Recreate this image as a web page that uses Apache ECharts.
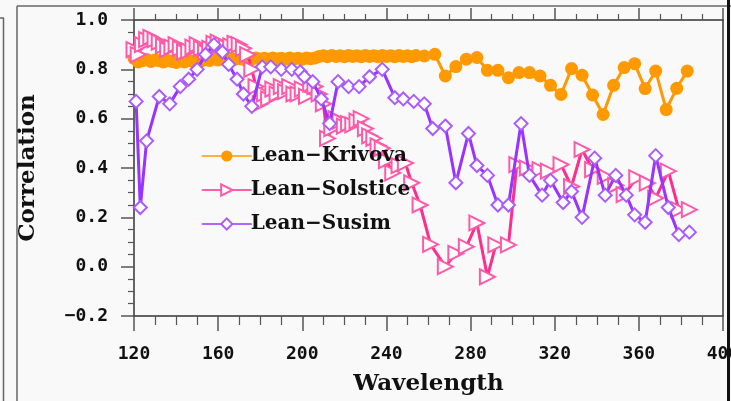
<!DOCTYPE html>
<html>
<head>
<meta charset="utf-8">
<script src="https://cdn.jsdelivr.net/npm/echarts@6/dist/echarts.min.js"></script>
<style>
  html, body { margin: 0; padding: 0; background: #f9f9f9; }
  #chart { width: 731px; height: 401px; }
</style>
</head>
<body>
<div id="chart"></div>
<script>
// Correlation of Lean with three other solar spectral irradiance reconstructions, per wavelength (nm)
const seriesNames = ['Lean\u2212Krivova', 'Lean\u2212Solstice', 'Lean\u2212Susim'];

const xTicks = [120, 160, 200, 240, 280, 320, 360, 400];
const yTicks = [-0.2, 0.0, 0.2, 0.4, 0.6, 0.8, 1.0];

const krivovaWl = [
  120, 122, 124, 126, 128, 130, 132, 134, 136, 138, 140, 142, 144, 146, 148, 150,
  152, 154, 156, 158, 160, 162, 164, 166, 168, 170, 172, 174, 176, 178, 180, 182,
  184, 186, 188, 190, 192, 194, 196, 198, 200, 202, 204, 206, 208, 210, 212, 214,
  216, 218, 220, 222, 224, 226, 228, 230, 232, 234, 236, 238, 240, 242, 244, 246,
  248, 250, 252, 254,
  258, 263, 268, 273, 278, 283, 288, 293, 298, 303, 308, 313, 318, 323, 328, 333,
  338, 343, 348, 353, 358, 363, 368, 373, 378, 383
];
const krivovaVal = [
  0.845, 0.830, 0.835, 0.840, 0.832, 0.838, 0.835, 0.830, 0.836, 0.832, 0.828, 0.834, 0.830, 0.836, 0.832, 0.838,
  0.834, 0.840, 0.836, 0.842, 0.838, 0.843, 0.840, 0.845, 0.841, 0.844, 0.840, 0.845, 0.842, 0.846, 0.842, 0.845,
  0.841, 0.846, 0.842, 0.845, 0.841, 0.846, 0.842, 0.845, 0.841, 0.846, 0.843, 0.846, 0.852, 0.855, 0.851, 0.856,
  0.852, 0.855, 0.851, 0.856, 0.852, 0.855, 0.851, 0.856, 0.852, 0.855, 0.851, 0.856, 0.852, 0.855, 0.851, 0.856,
  0.852, 0.855, 0.851, 0.856,
  0.854, 0.861, 0.773, 0.811, 0.841, 0.848, 0.796, 0.796, 0.766, 0.787, 0.787, 0.773, 0.735, 0.698, 0.803, 0.776,
  0.696, 0.617, 0.735, 0.807, 0.823, 0.722, 0.793, 0.637, 0.723, 0.793
];

const solsticeWl = [
  120, 122, 124, 126, 128, 130, 132, 134, 136, 138, 140, 142, 144, 146, 148, 150,
  152, 154, 156, 158, 160, 162, 164, 166, 168, 170, 172, 174, 176, 178, 180, 182,
  184, 186, 188, 190, 192, 194, 196, 198, 200, 202, 204, 206, 208, 210, 212, 214,
  216, 218, 220, 222, 224, 226, 228, 230, 232, 234, 236, 238, 240, 243, 246, 249,
  252, 256, 261, 268, 273, 278, 283, 288, 292, 298, 302, 307, 313, 317, 323, 328,
  333, 338, 344, 349, 353, 359, 364, 368, 374, 379, 384
];
const solsticeVal = [
  0.880, 0.860, 0.900, 0.920, 0.930, 0.920, 0.910, 0.895, 0.880, 0.890, 0.900, 0.885, 0.870, 0.875, 0.890, 0.900,
  0.885, 0.870, 0.885, 0.905, 0.910, 0.900, 0.890, 0.895, 0.905, 0.900, 0.885, 0.860, 0.800, 0.730, 0.660, 0.700,
  0.680, 0.720, 0.700, 0.730, 0.710, 0.730, 0.700, 0.700, 0.720, 0.690, 0.740, 0.730, 0.700, 0.660, 0.520, 0.560,
  0.600, 0.590, 0.570, 0.580, 0.575, 0.590, 0.600, 0.560, 0.530, 0.520, 0.490, 0.480, 0.430, 0.380, 0.410, 0.420,
  0.340, 0.250, 0.090, 0.000, 0.054, 0.081, 0.177, -0.041, 0.088, 0.088, 0.414, 0.400, 0.393, 0.387, 0.414, 0.325,
  0.475, 0.393, 0.366, 0.330, 0.292, 0.360, 0.339, 0.278, 0.387, 0.231, 0.231
];

const susimWl = [
  121, 123, 126, 132, 137, 142, 146, 150, 154, 158, 162, 165, 169, 172, 176, 181,
  185, 190, 195, 199, 201, 205, 209, 213, 217, 222, 227, 232, 238, 244, 248, 253,
  258, 262, 268, 273, 279, 283, 288, 293, 298, 304, 308, 314, 318, 324, 328, 333,
  339, 344, 349, 354, 358, 363, 368, 374, 379, 384
];
const susimVal = [
  0.670, 0.240, 0.510, 0.690, 0.660, 0.730, 0.760, 0.800, 0.860, 0.900, 0.870, 0.820, 0.760, 0.700, 0.650, 0.810,
  0.810, 0.800, 0.800, 0.790, 0.770, 0.750, 0.680, 0.580, 0.750, 0.730, 0.730, 0.770, 0.800, 0.685, 0.680, 0.670,
  0.660, 0.560, 0.570, 0.340, 0.540, 0.410, 0.370, 0.250, 0.250, 0.580, 0.370, 0.290, 0.350, 0.260, 0.305, 0.200,
  0.440, 0.290, 0.370, 0.290, 0.210, 0.180, 0.450, 0.240, 0.130, 0.140
];

const pairs = (wl, val) => wl.map((w, i) => [w, val[i]]);

const tickFont = { fontFamily: 'DejaVu Sans Mono', fontWeight: 'bold', fontSize: 18, color: '#111' };
const titleFont = { fontFamily: 'DejaVu Serif', fontWeight: 'bold', fontSize: 23, color: '#111' };
const frameColor = '#333';
const tickColor = '#555';

const chart = echarts.init(document.getElementById('chart'), null, { renderer: 'canvas' });

chart.setOption({
  animation: false,
  backgroundColor: '#f9f9f9',
  grid: { left: 134, right: 8, top: 20, bottom: 85, containLabel: false, outerBoundsMode: 'none' },
  xAxis: [{
    type: 'value',
    position: 'bottom',
    min: xTicks[0],
    max: xTicks[xTicks.length - 1],
    interval: xTicks[1] - xTicks[0],
    name: 'Wavelength',
    nameLocation: 'middle',
    nameGap: 57,
    nameTextStyle: Object.assign({ verticalAlign: 'top' }, titleFont),
    axisLine: { show: true, onZero: false, lineStyle: { color: frameColor, width: 1.5 } },
    axisTick: { show: true, inside: false, length: 15, lineStyle: { color: tickColor, width: 1.5 } },
    minorTick: { show: true, splitNumber: 4, length: 9, lineStyle: { color: tickColor, width: 1.2 } },
    axisLabel: Object.assign({ margin: 29, showMaxLabel: true, showMinLabel: true, hideOverlap: false }, tickFont),
    splitLine: { show: false }
  }, {
    type: 'value',
    position: 'top',
    min: xTicks[0],
    max: xTicks[xTicks.length - 1],
    interval: xTicks[1] - xTicks[0],
    axisLine: { show: true, onZero: false, lineStyle: { color: frameColor, width: 1.5 } },
    axisTick: { show: true, inside: false, length: 12, lineStyle: { color: tickColor, width: 1.5 } },
    minorTick: { show: true, splitNumber: 4, length: 6, lineStyle: { color: tickColor, width: 1.2 } },
    axisLabel: { show: false },
    splitLine: { show: false }
  }],
  yAxis: [{
    type: 'value',
    position: 'left',
    min: yTicks[0],
    max: yTicks[yTicks.length - 1],
    interval: 0.2,
    name: 'Correlation',
    nameLocation: 'middle',
    nameRotate: 90,
    nameGap: 94,
    nameTextStyle: titleFont,
    axisLine: { show: true, onZero: false, lineStyle: { color: frameColor, width: 1.5 } },
    axisTick: { show: true, inside: false, length: 13, lineStyle: { color: tickColor, width: 1.5 } },
    minorTick: { show: true, splitNumber: 4, length: 6, lineStyle: { color: tickColor, width: 1.2 } },
    axisLabel: Object.assign({
      margin: 26,
      formatter: v => (v < 0 ? '\u2212' : '') + Math.abs(v).toFixed(1)
    }, tickFont),
    splitLine: { show: false }
  }, {
    type: 'value',
    position: 'right',
    min: yTicks[0],
    max: yTicks[yTicks.length - 1],
    interval: 0.2,
    axisLine: { show: true, onZero: false, lineStyle: { color: frameColor, width: 1.5 } },
    axisTick: { show: false },
    axisLabel: { show: false },
    splitLine: { show: false }
  }],
  legend: {
    orient: 'vertical',
    left: 196,
    top: 141,
    itemWidth: 50,
    itemHeight: 14,
    itemGap: 14,
    data: seriesNames,
    lineStyle: { width: 1.5 },
    textStyle: { fontFamily: 'DejaVu Serif', fontWeight: 'bold', fontSize: 20, color: '#111', lineHeight: 20, padding: [0, 0, 0, -6] }
  },
  series: [{
    name: seriesNames[0],
    type: 'line',
    data: pairs(krivovaWl, krivovaVal),
    symbol: 'circle',
    symbolSize: 13,
    showAllSymbol: true,
    clip: false,
    lineStyle: { color: '#ff9900', width: 3 },
    itemStyle: { color: '#ff9900' },
    z: 2
  }, {
    name: seriesNames[1],
    type: 'line',
    data: pairs(solsticeWl, solsticeVal),
    symbol: 'emptyTriangle',
    symbolRotate: -90,
    symbolSize: 15,
    showAllSymbol: true,
    clip: false,
    lineStyle: { color: '#ff2d8c', width: 3 },
    itemStyle: { color: '#ff5aa8', borderColor: '#ff5aa8', borderWidth: 1.3 },
    z: 3
  }, {
    name: seriesNames[2],
    type: 'line',
    data: pairs(susimWl, susimVal),
    symbol: 'emptyDiamond',
    symbolSize: 13,
    showAllSymbol: true,
    clip: false,
    lineStyle: { color: '#9933ff', width: 3 },
    itemStyle: { color: '#aa5cff', borderColor: '#aa5cff', borderWidth: 1.3 },
    z: 4
  }],
  graphic: [
    // page frame around the figure
    { type: 'line', shape: { x1: 17, y1: 6, x2: 731, y2: 6 }, style: { stroke: '#666', lineWidth: 1.5 }, silent: true },
    { type: 'line', shape: { x1: 17, y1: 6, x2: 17, y2: 401 }, style: { stroke: '#666', lineWidth: 1.5 }, silent: true },
    { type: 'line', shape: { x1: 3.5, y1: 18, x2: 3.5, y2: 401 }, style: { stroke: '#666', lineWidth: 1.5 }, silent: true },
    { type: 'line', shape: { x1: 0, y1: 18, x2: 4, y2: 18 }, style: { stroke: '#666', lineWidth: 1.5 }, silent: true },
    { type: 'line', shape: { x1: 728.5, y1: 0, x2: 728.5, y2: 401 }, style: { stroke: '#111', lineWidth: 3 }, silent: true }
  ]
});
</script>
</body>
</html>
